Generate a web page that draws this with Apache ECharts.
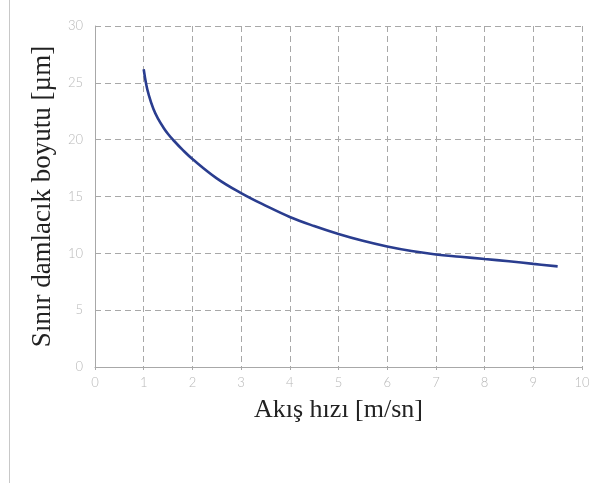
<!DOCTYPE html>
<html>
<head>
<meta charset="utf-8">
<script src="https://cdn.jsdelivr.net/npm/echarts@6/dist/echarts.min.js"></script>
<style>
html,body{margin:0;padding:0;background:#fff;}
#chart{width:612px;height:483px;}
#frame{position:absolute;left:9px;top:0;width:1px;height:483px;background:#c8c8c8;}
</style>
</head>
<body>
<div id="frame"></div>
<div id="chart"></div>
<script>
const velocity = [1.0, 1.05, 1.1, 1.2, 1.3, 1.4, 1.5, 1.6, 1.8, 2.0, 2.5, 3.0, 3.5, 4.0, 4.5, 5.0, 5.5, 6.0, 6.5, 7.0, 7.5, 8.0, 8.5, 9.0, 9.5];
const dropletSize = [26.2, 24.9, 24.0, 22.7, 21.8, 21.1, 20.5, 20.0, 19.1, 18.3, 16.6, 15.3, 14.2, 13.2, 12.4, 11.7, 11.1, 10.6, 10.2, 9.9, 9.7, 9.5, 9.3, 9.07, 8.85];
const xTitle = 'Akış hızı [m/sn]';
const yTitle = 'Sınır damlacık boyutu [µm]';

const chart = echarts.init(document.getElementById('chart'), null, {renderer: 'canvas'});
const gridColor = '#a8a8a8';
const labelStyle = {color: '#b8b8b8', fontSize: 13, fontFamily: 'Lato', fontWeight: 300};
chart.setOption({
  animation: false,
  grid: {left: 95, right: 30, top: 26, bottom: 116, containLabel: false},
  xAxis: {
    type: 'value', min: 0, max: 10, interval: 1,
    name: xTitle, nameLocation: 'middle', nameGap: 30,
    nameTextStyle: {fontFamily: 'Liberation Serif', fontSize: 26, color: '#222'},
    axisLine: {show: true, lineStyle: {color: gridColor, width: 1}},
    axisTick: {show: true, inside: false, length: 3, lineStyle: {color: gridColor}},
    axisLabel: Object.assign({margin: 9}, labelStyle),
    splitLine: {show: true, lineStyle: {color: gridColor, type: [6, 4], width: 1}}
  },
  yAxis: {
    type: 'value', min: 0, max: 30, interval: 5,
    name: yTitle, nameLocation: 'middle', nameGap: 39,
    nameTextStyle: {fontFamily: 'Liberation Serif', fontSize: 27, color: '#222'},
    axisLine: {show: true, lineStyle: {color: gridColor, width: 1}},
    axisTick: {show: false},
    axisLabel: Object.assign({margin: 12}, labelStyle),
    splitLine: {show: true, lineStyle: {color: gridColor, type: [6, 4], width: 1}}
  },
  series: [{
    type: 'line',
    data: velocity.map((v, i) => [v, dropletSize[i]]),
    smooth: 0.4,
    showSymbol: false,
    lineStyle: {color: '#2a3d8f', width: 2.6}
  }]
});
</script>
</body>
</html>
